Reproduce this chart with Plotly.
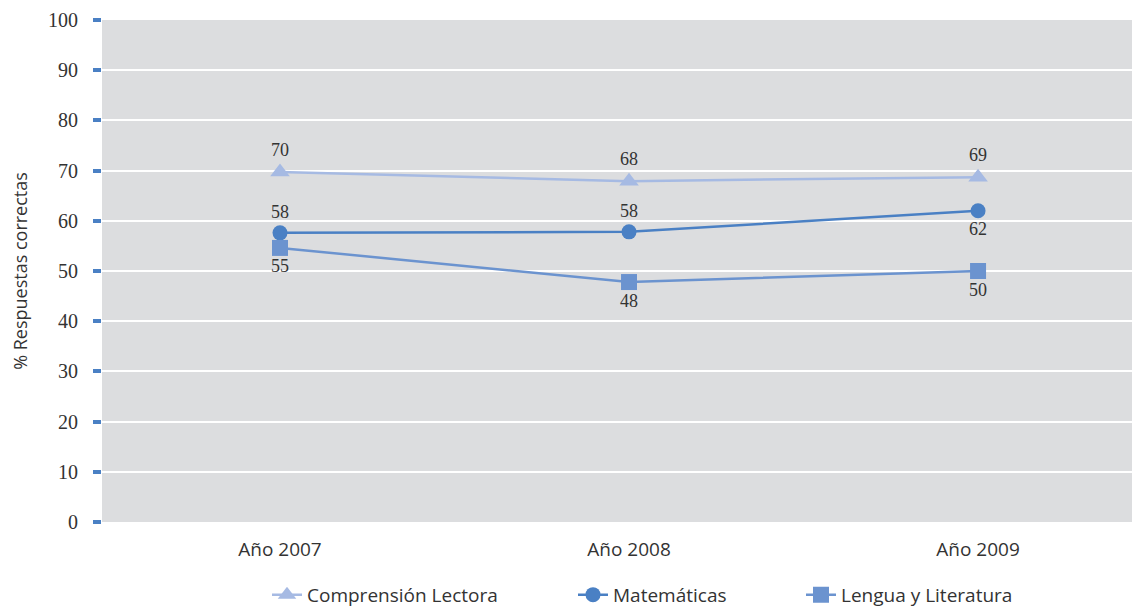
import plotly.graph_objects as go

years = ["Año 2007", "Año 2008", "Año 2009"]
comprension = [69.7, 67.9, 68.7]
matematicas = [57.6, 57.8, 62.0]
lengua = [54.6, 47.8, 50.0]

c_comp = "#a6bae3"
c_mat = "#4a80c4"
c_len = "#6b93cf"
lab_font = dict(family="Liberation Serif", size=18, color="#333333")

fig = go.Figure()
fig.add_trace(go.Scatter(
    x=years, y=comprension, name="Comprensión Lectora", mode="lines+markers+text",
    line=dict(color=c_comp, width=2.5),
    marker=dict(symbol="triangle-up", size=17, color=c_comp),
    text=[f"{v:.0f}" for v in comprension], textposition="top center",
    textfont=lab_font, legend="legend", showlegend=True))
fig.add_trace(go.Scatter(
    x=years, y=matematicas, name="Matemáticas", mode="lines+markers+text",
    line=dict(color=c_mat, width=2.5),
    marker=dict(symbol="circle", size=15, color=c_mat),
    text=[f"{v:.0f}" for v in matematicas],
    textposition=["top center", "top center", "bottom center"],
    textfont=lab_font, legend="legend2", showlegend=True))
fig.add_trace(go.Scatter(
    x=years, y=lengua, name="Lengua y Literatura", mode="lines+markers+text",
    line=dict(color=c_len, width=2.5),
    marker=dict(symbol="square", size=16, color=c_len),
    text=[f"{v:.0f}" for v in lengua], textposition="bottom center",
    textfont=lab_font, legend="legend3", showlegend=True))

leg_font = dict(family="Open Sans", size=19, color="#333333")
leg_common = dict(orientation="h", xref="paper", yref="paper", y=-0.145, yanchor="middle",
                  xanchor="left", font=leg_font, itemwidth=30, bgcolor="rgba(0,0,0,0)",
                  visible=True)

fig.update_layout(
    width=1132, height=600,
    showlegend=True,
    margin=dict(l=94, r=0, t=12, b=86, autoexpand=False),
    paper_bgcolor="white", plot_bgcolor="#dcdddf",
    font=dict(family="Liberation Serif", size=19, color="#333333"),
    legend=dict(x=(267 - 102) / 1038, **leg_common),
    legend2=dict(x=(573 - 102) / 1038, **leg_common),
    legend3=dict(x=(801 - 102) / 1038, **leg_common),
    xaxis=dict(type="category", range=[-0.51, 2.464], showgrid=False, showline=False,
               ticks="", tickfont=dict(family="Open Sans", size=19, color="#333333"),
               ticklabelstandoff=14, zeroline=False),
    yaxis=dict(range=[0, 100], dtick=10, showgrid=True, gridcolor="white", gridwidth=2,
               zeroline=False, showline=False, ticks="outside", ticklen=8, tickwidth=4,
               tickcolor="#4a80c4", ticklabelstandoff=11,
               tickfont=dict(family="Liberation Serif", size=20, color="#333333"),
               title=dict(text="% Respuestas correctas", standoff=28,
                          font=dict(family="Open Sans", size=18, color="#333333"))),
    yaxis2=dict(overlaying="y", side="left", range=[0, 100], dtick=10, showgrid=False,
                zeroline=False, showline=False, ticks="inside", ticklen=8, tickwidth=4,
                tickcolor="#4a80c4", showticklabels=False),
)
fig.write_html("out.html")
